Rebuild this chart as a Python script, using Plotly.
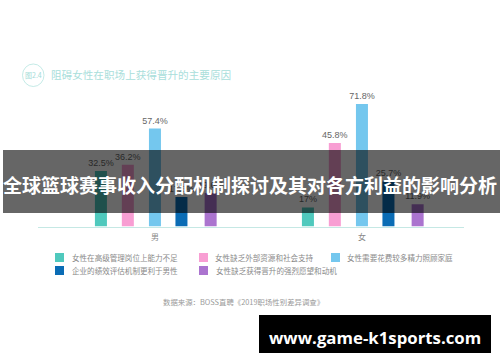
import plotly.graph_objects as go

W, H = 500, 362
CJK = "Noto Sans CJK SC"
LATIN = "Liberation Sans"

categories = ["男", "女"]
series_names = [
    "女性在高级管理岗位上能力不足",
    "女性缺乏外部资源和社会支持",
    "女性需要花费较多精力照顾家庭",
    "企业的绩效评估机制更利于男性",
    "女性缺乏获得晋升的强烈愿望和动机",
]
s1_heights = [32.5, 11.2]
s2_heights = [36.2, 48.9]
s3_heights = [57.4, 71.8]
s4_heights = [17.3, 26.4]
s5_heights = [19.6, 13.0]
s1_labels = ["32.5%", "17%"]
s2_labels = ["36.2%", "45.8%"]
s3_labels = ["57.4%", "71.8%"]
s4_labels = ["17.3%", "25.7%"]
s5_labels = ["19.6%", "11.9%"]
colors = ["#4fc9bd", "#f89ed3", "#74c7ee", "#0a6cb5", "#ab74cf"]
offsets = [-0.290, -0.160, -0.029, 0.099, 0.240]
heights = [s1_heights, s2_heights, s3_heights, s4_heights, s5_heights]
labels = [s1_labels, s2_labels, s3_labels, s4_labels, s5_labels]

fig = go.Figure()
for name, h, lab, col, off in zip(series_names, heights, labels, colors, offsets):
    fig.add_bar(
        x=categories, y=h, name=name, marker=dict(color=col, line_width=0),
        width=0.058, offset=off, text=lab, textposition="outside", constraintext="none",
        textfont=dict(family=LATIN, size=9, color="#666666"), cliponaxis=False,
    )

def px(x):
    return x / W
def py(y):
    return 1 - y / H

shapes = []
annotations = []

def rect(x0, y0, x1, y1, color):
    shapes.append(dict(type="rect", xref="paper", yref="paper", x0=px(x0), x1=px(x1),
                       y0=py(y0), y1=py(y1), fillcolor=color, line_width=0, layer="above"))

def text(x, y, s, size, color, anchor="left", family=CJK):
    annotations.append(dict(xref="paper", yref="paper", x=px(x), y=py(y), text=s, showarrow=False,
                            xanchor=anchor, yanchor="middle", borderpad=0,
                            font=dict(family=family, size=size, color=color)))

# header
shapes.append(dict(type="circle", xref="paper", yref="paper", x0=px(22.5), x1=px(44),
                   y0=py(64), y1=py(86.5), line=dict(color="#b5e4e0", width=0.8), layer="above"))
text(33.2, 75, "图2.4", 7, "#a5dcd8", "center")
text(50, 74.5, "阻碍女性在职场上获得晋升的主要原因", 10.6, "#a9dedb")

# legend rows
leg = [(55, 257.5, 71), (199, 257.5, 214), (331, 257.5, 346), (55, 270.5, 71), (199, 270.5, 215)]
for (sx, sy, tx), name, col in zip(leg, series_names, colors):
    rect(sx, sy - 4.5, sx + 9, sy + 4.5, col)
    text(tx, sy - 0.5, name, 7.55, "#8a8a8a")

text(162, 301.5, "数据来源：BOSS直聘《2019职场性别差异调查》", 7.4, "#9a9a9a")

# overlay band and site tag
rect(3, 150, 500, 213, "rgba(0,0,0,0.6)")
text(250, 184, "全球篮球赛事收入分配机制探讨及其对各方利益的影响分析", 19, "#ffffff", "center")
annotations[-1]["font"]["weight"] = "bold"
rect(259, 315, 491, 353, "#000000")
text(375, 337, "www.game-k1sports.com", 16.8, "#ffffff", "center", "Open Sans")
annotations[-1]["font"]["weight"] = "bold"

fig.update_layout(
    width=W, height=H, autosize=False, margin=dict(l=0, r=0, t=0, b=0),
    paper_bgcolor="#ffffff", plot_bgcolor="#ffffff", showlegend=False, barmode="group",
    shapes=shapes, annotations=annotations,
    xaxis=dict(domain=[38 / W, 464 / W], range=[-0.565, 1.493], type="category",
               showgrid=False, showline=True, linecolor="#c5e8e4", linewidth=1, ticks="",
               ticklabelstandoff=3, tickfont=dict(family=CJK, size=8, color="#888888")),
    yaxis=dict(domain=[135.5 / H, 272 / H], range=[0, 80], visible=False),
)
fig.write_html("out.html", post_script="document.body.style.margin='0';",
               config=dict(displayModeBar=False))
